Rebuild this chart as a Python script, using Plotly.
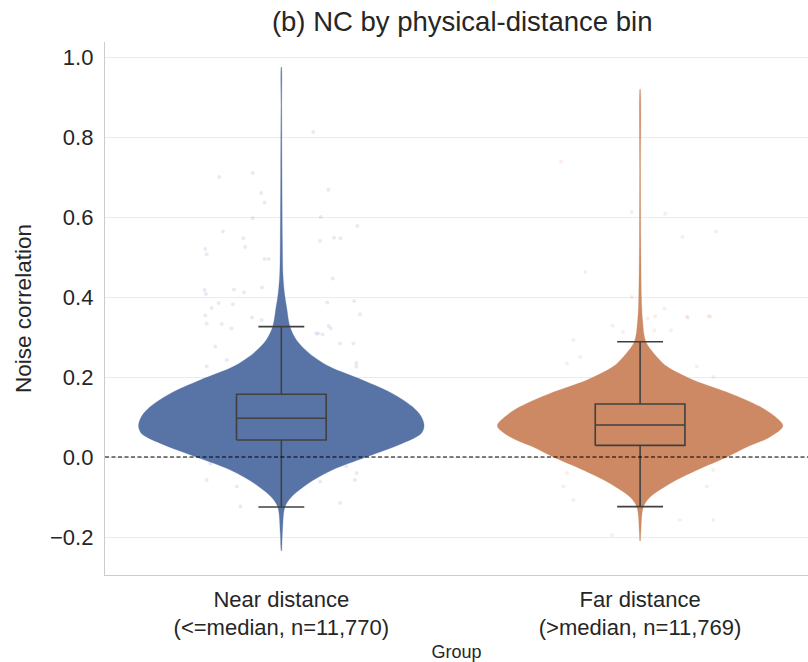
import plotly.graph_objects as go

# ---------------- data ----------------
categories = ["Near distance<br>(<=median, n=11,770)", "Far distance<br>(>median, n=11,769)"]
cat_pos = [0, 1]

# violin outlines: y levels and half-widths (category units)
near_y = [0.975, 0.876, 0.71, 0.54, 0.457, 0.4075, 0.373, 0.326, 0.2925, 0.259, 0.226, 0.1925,
          0.159, 0.126, 0.101, 0.0775, 0.059, 0.034, 0.0, -0.0325, -0.066, -0.1, -0.125, -0.19, -0.235]
near_w = [0.0003, 0.001, 0.0018, 0.003, 0.0045, 0.009, 0.015, 0.024, 0.042, 0.078, 0.134, 0.226,
          0.309, 0.365, 0.390, 0.398, 0.390, 0.337, 0.237, 0.142, 0.075, 0.028, 0.010, 0.003, 0.0003]
far_y = [0.92, 0.71, 0.54, 0.39, 0.3425, 0.288, 0.25, 0.226, 0.1925, 0.159, 0.126, 0.101, 0.0775,
         0.05, 0.025, 0.0, -0.0325, -0.066, -0.1, -0.125, -0.19, -0.21]
far_w = [0.0003, 0.0014, 0.002, 0.004, 0.0068, 0.016, 0.047, 0.075, 0.148, 0.251, 0.334, 0.376, 0.398,
         0.362, 0.298, 0.242, 0.159, 0.084, 0.028, 0.009, 0.002, 0.0005]

# box statistics: lower whisker, q1, median, q3, upper whisker
near_box = [-0.125, 0.0425, 0.097, 0.157, 0.326]
far_box = [-0.124, 0.029, 0.080, 0.1325, 0.288]

# faint jittered points visible outside the violins (offset, value)
near_pts_dx = [0.089, -0.173, -0.080, -0.056, -0.047, 0.131, -0.080, 0.110, -0.163, 0.212, -0.106, 0.108,
               0.147, 0.165, -0.212, -0.101, -0.208, -0.047, -0.035, 0.143, -0.214, -0.210, -0.132, -0.104,
               -0.054, 0.128, 0.203, -0.175, -0.135, -0.194, -0.212, 0.219, -0.208, -0.166, -0.082, -0.055,
               -0.139, 0.132, 0.138, 0.103, 0.115, -0.208, -0.198, -0.124, -0.114, 0.108, 0.164, 0.210,
               0.205, 0.181, 0.209, 0.209, -0.208, -0.184, -0.152, 0.164, 0.097, 0.201]
near_pts_y = [0.8125, 0.70, 0.71, 0.66, 0.636, 0.668, 0.597, 0.60, 0.564, 0.5775, 0.547, 0.54,
              0.548, 0.547, 0.52, 0.525, 0.507, 0.495, 0.495, 0.446, 0.4175, 0.4075, 0.419, 0.412,
              0.424, 0.386, 0.39, 0.385, 0.382, 0.3725, 0.354, 0.357, 0.334, 0.3325, 0.349, 0.3425,
              0.321, 0.3275, 0.321, 0.309, 0.306, -0.0575, -0.016, -0.074, -0.124, -0.061, -0.115, -0.04,
              -0.0575, -0.024, 0.226, 0.235, 0.226, 0.276, 0.2425, 0.284, 0.309, 0.284]
far_pts_dx = [-0.220, -0.023, 0.070, 0.118, 0.212, -0.153, -0.023, 0.068, 0.133, 0.191, -0.077, -0.048,
              0.021, 0.042, 0.040, 0.086, -0.204, -0.214, -0.186, 0.204, 0.186, 0.111, 0.204, -0.079,
              -0.186, -0.204, 0.195, 0.130, 0.204, 0.158, -0.167]
far_pts_y = [0.738, 0.6125, 0.608, 0.55, 0.564, 0.4625, 0.40, 0.371, 0.348, 0.352, 0.329, 0.3125,
             0.346, 0.352, 0.316, 0.317, -0.04, -0.074, -0.1075, -0.0325, -0.074, -0.1575, -0.1575, -0.195,
             0.2925, 0.234, 0.351, 0.351, 0.20, 0.226, 0.25]

y_ticks = [-0.2, 0.0, 0.2, 0.4, 0.6, 0.8, 1.0]
y_ticktext = ["\u22120.2", "0.0", "0.2", "0.4", "0.6", "0.8", "1.0"]

# ---------------- styling ----------------
near_color = "#5874a6"
far_color = "#cc8963"
box_line = "#404040"
text_color = "#262626"
font_family = "Liberation Sans, Arial, sans-serif"
BOX_HALF = 0.125
CAP_HALF = 0.064

fig = go.Figure()

# jitter points (underneath)
for c, dx, ys, col in [(cat_pos[0], near_pts_dx, near_pts_y, "rgba(76,114,176,0.14)"),
                        (cat_pos[1], far_pts_dx, far_pts_y, "rgba(221,132,82,0.14)")]:
    fig.add_trace(go.Scatter(x=[c + d for d in dx], y=ys, mode="markers",
                             marker=dict(size=4, color=col, line=dict(width=0)),
                             showlegend=False, hoverinfo="skip"))

# violins
for c, ys, ws, col in [(cat_pos[0], near_y, near_w, near_color),
                        (cat_pos[1], far_y, far_w, far_color)]:
    xs = [c + w for w in ws] + [c - w for w in reversed(ws)]
    yy = list(ys) + list(reversed(ys))
    xs.append(xs[0]); yy.append(yy[0])
    fig.add_trace(go.Scatter(x=xs, y=yy, mode="lines", fill="toself", fillcolor=col,
                             line=dict(color=col, width=0.3, shape="spline", smoothing=0.9),
                             showlegend=False, hoverinfo="skip"))

# boxes drawn as lines (so they sit on top of the violins)
for c, b in [(cat_pos[0], near_box), (cat_pos[1], far_box)]:
    lo, q1, med, q3, hi = b
    xs = [c - BOX_HALF, c + BOX_HALF, c + BOX_HALF, c - BOX_HALF, c - BOX_HALF, None,
          c - BOX_HALF, c + BOX_HALF, None,
          c, c, None, c, c, None,
          c - CAP_HALF, c + CAP_HALF, None, c - CAP_HALF, c + CAP_HALF]
    ys = [q1, q1, q3, q3, q1, None,
          med, med, None,
          q3, hi, None, q1, lo, None,
          hi, hi, None, lo, lo]
    fig.add_trace(go.Scatter(x=xs, y=ys, mode="lines", line=dict(color=box_line, width=1.6),
                             showlegend=False, hoverinfo="skip"))

# zero reference line
fig.add_hline(y=0, line=dict(color="black", width=1.1, dash="4px,2.5px"))

fig.update_layout(
    width=808, height=662,
    margin=dict(l=105, r=0, t=42, b=87),
    paper_bgcolor="white", plot_bgcolor="white",
    font=dict(family=font_family, color=text_color, size=20),
    title=dict(text="(b) NC by physical-distance bin", x=0.572, xanchor="center",
               y=0.967, yanchor="middle", font=dict(size=27.5, color=text_color)),
    xaxis=dict(range=[-0.4915, 1.468], tickmode="array", tickvals=cat_pos, ticktext=categories,
               showgrid=False, zeroline=False, showline=True, linecolor="#cccccc", linewidth=1.3,
               ticks="", tickfont=dict(size=22, color=text_color), ticklabelstandoff=4,
               title=dict(text="Group", font=dict(size=18, color=text_color), standoff=6)),
    yaxis=dict(range=[-0.295, 1.0375], tickmode="array", tickvals=y_ticks, ticktext=y_ticktext,
               showgrid=True, gridcolor="#ebebeb", gridwidth=1.1, zeroline=False,
               showline=True, linecolor="#cccccc", linewidth=1.3, ticks="",
               ticklabelstandoff=6, tickfont=dict(size=22, color=text_color),
               title=dict(text="Noise correlation", font=dict(size=22.5, color=text_color), standoff=12)),
)

fig.write_html("out.html", config={"displayModeBar": False},
               post_script="document.body.style.margin='0';")
